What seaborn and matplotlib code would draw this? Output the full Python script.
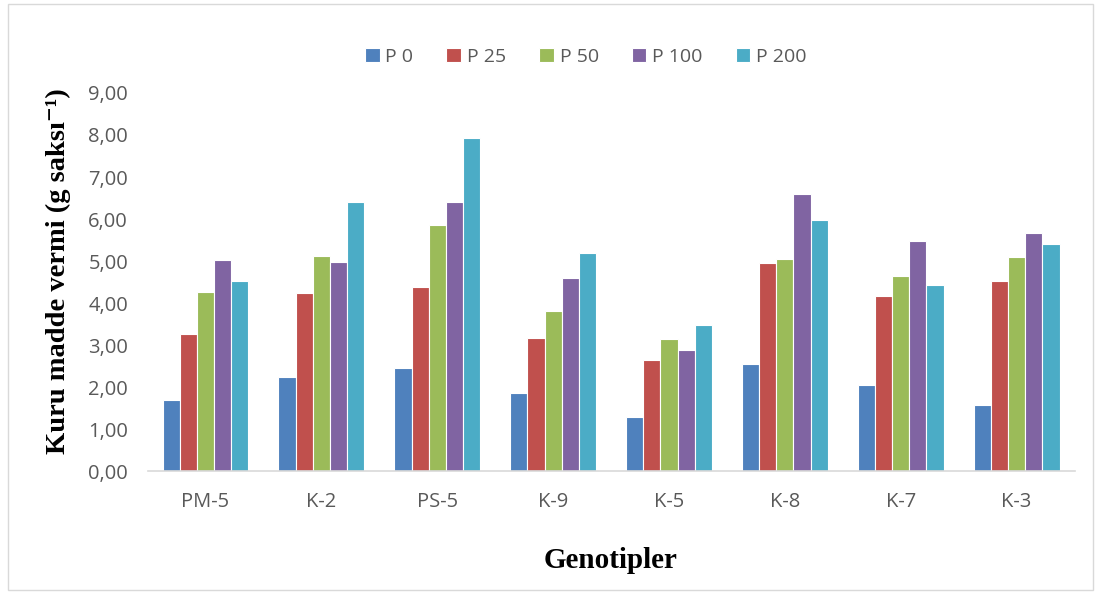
import numpy as np
import pandas as pd
import seaborn as sns
import matplotlib.pyplot as plt
from matplotlib.patches import Rectangle
from matplotlib.ticker import FuncFormatter

# --- DATA ---
genotypes = ['PM-5', 'K-2', 'PS-5', 'K-9', 'K-5', 'K-8', 'K-7', 'K-3']
doses = ['P 0', 'P 25', 'P 50', 'P 100', 'P 200']
p0 = [1.69, 2.24, 2.45, 1.85, 1.29, 2.56, 2.06, 1.58]
p25 = [3.27, 4.23, 4.39, 3.18, 2.64, 4.95, 4.18, 4.52]
p50 = [4.27, 5.13, 5.87, 3.81, 3.14, 5.05, 4.64, 5.10]
p100 = [5.03, 4.98, 6.41, 4.60, 2.89, 6.60, 5.47, 5.67]
p200 = [4.52, 6.40, 7.92, 5.20, 3.47, 5.97, 4.42, 5.40]
colors = ['#4F81BD', '#C0504D', '#9BBB59', '#8064A2', '#4BACC6']

df = pd.DataFrame({'P 0': p0, 'P 25': p25, 'P 50': p50, 'P 100': p100, 'P 200': p200},
                  index=genotypes)
long = df.reset_index(names='Genotip').melt(id_vars='Genotip', var_name='Doz', value_name='Verim')

sns.set_style('white')
plt.rcParams['font.family'] = ['Open Sans', 'DejaVu Sans']

fig = plt.figure(figsize=(11.01, 5.92), dpi=100)
ax = fig.add_axes([0.134, 0.204, 0.842, 0.639])

sns.barplot(data=long, x='Genotip', y='Verim', hue='Doz', order=genotypes, hue_order=doses,
            palette=colors, width=0.74, edgecolor='white', linewidth=0.8, saturation=1,
            errorbar=None, ax=ax)

ax.set_ylim(0, 9)
ax.set_yticks(np.arange(0, 10, 1))
ax.yaxis.set_major_formatter(FuncFormatter(lambda v, _: f'{v:.2f}'.replace('.', ',')))
ax.tick_params(axis='both', length=0, labelsize=14.5, colors='#595959')
ax.tick_params(axis='x', pad=15)
ax.tick_params(axis='y', pad=14)
for s in ['top', 'right', 'left']:
    ax.spines[s].set_visible(False)
ax.spines['bottom'].set_color('#D9D9D9')
ax.spines['bottom'].set_linewidth(1.2)

ax.set_xlabel('Genotipler', family=['Liberation Serif', 'DejaVu Serif'], fontweight='bold',
              fontsize=21, color='black')
ax.xaxis.set_label_coords(0.5, -0.2)
ax.set_ylabel('Kuru madde vermi (g saksı\u207b\u00b9)', family=['Liberation Serif', 'DejaVu Serif'],
              fontweight='bold', fontsize=20.5, color='black')
ax.yaxis.set_label_coords(-0.083, 0.53)

leg = ax.legend(loc='center', bbox_to_anchor=(0.532, 0.904), bbox_transform=fig.transFigure,
                ncol=5, frameon=False, fontsize=14, handlelength=0.75, handleheight=0.75,
                handletextpad=0.3, columnspacing=1.7, labelcolor='#595959')

# light border around the chart area
fig.patches.append(Rectangle((0.007, 0.003), 0.986, 0.99, transform=fig.transFigure,
                             fill=False, edgecolor='#D9D9D9', linewidth=1))

fig.savefig('out.png', dpi=100)
